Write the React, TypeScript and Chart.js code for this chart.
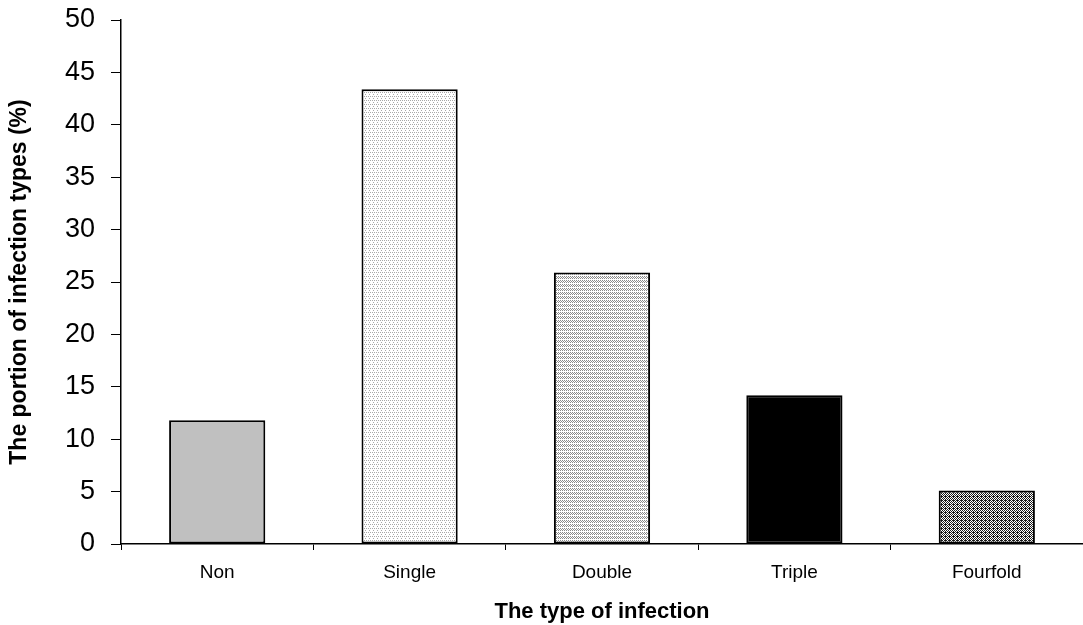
import React, { useEffect, useRef } from "react";
import { Chart, registerables } from "chart.js";

Chart.register(...registerables);

const categories = ["Non", "Single", "Double", "Triple", "Fourfold"];
const portions = [11.8, 43.4, 25.9, 14.2, 5.1];
const yTicks = [0, 5, 10, 15, 20, 25, 30, 35, 40, 45, 50];
const yTitle = "The portion of infection types (%)";
const xTitle = "The type of infection";

const FONT = "Arial, 'Liberation Sans', Helvetica, sans-serif";

function makePattern(size: number, bg: string, fg: string, cells: [number, number][]) {
  const c = document.createElement("canvas");
  c.width = size;
  c.height = size;
  const ctx = c.getContext("2d")!;
  ctx.fillStyle = bg;
  ctx.fillRect(0, 0, size, size);
  ctx.fillStyle = fg;
  for (const [x, y] of cells) ctx.fillRect(x, y, 1, 1);
  return ctx.createPattern(c, "repeat")!;
}

export default function App() {
  const ref = useRef<HTMLCanvasElement | null>(null);

  useEffect(() => {
    document.body.style.margin = "0";
    const canvas = ref.current!;
    const sparse = makePattern(4, "#ffffff", "#a8a8a8", [[0, 0], [2, 0], [1, 2]]);
    const medium = makePattern(4, "#ffffff", "#8a8a8a", [
      [0, 0], [2, 0], [1, 1], [3, 1], [0, 2], [2, 2],
    ]);
    const dense = makePattern(4, "#ffffff", "#1a1a1a", [
      [0, 0], [2, 0], [1, 1], [3, 1], [0, 2], [2, 2], [1, 3], [3, 3], [1, 0],
    ]);
    const fills: (string | CanvasPattern)[] = ["#c0c0c0", sparse, medium, "#000000", dense];

    const chart = new Chart(canvas, {
      type: "bar",
      data: {
        labels: categories,
        datasets: [
          {
            data: portions,
            backgroundColor: fills as any,
            borderColor: "#000000",
            borderWidth: 2,
            borderSkipped: false,
            barPercentage: 0.5,
            categoryPercentage: 1,
          },
        ],
      },
      options: {
        responsive: false,
        animation: false,
        layout: { padding: { top: 20, left: 0, right: 0, bottom: 0 } },
        plugins: { legend: { display: false }, tooltip: { enabled: false } },
        scales: {
          x: {
            grid: {
              offset: true,
              drawOnChartArea: false,
              drawTicks: true,
              tickLength: 6,
              color: "#000000",
              lineWidth: 1,
            },
            border: { display: true, color: "#000000", width: 1.5 },
            ticks: {
              color: "#000000",
              font: { family: FONT, size: 19 },
              padding: 11,
            },
            title: {
              display: true,
              text: xTitle,
              color: "#000000",
              font: { family: FONT, size: 22, weight: "bold" },
              padding: { top: 0, bottom: 0 },
            },
            afterFit: (s: any) => {
              s.height = 81;
              s.paddingLeft = 0;
              s.paddingRight = 0;
            },
          },
          y: {
            min: 0,
            max: 50,
            afterBuildTicks: (s: any) => {
              s.ticks = yTicks.map((v) => ({ value: v }));
            },
            grid: {
              drawOnChartArea: false,
              drawTicks: true,
              tickLength: 10,
              color: "#000000",
              lineWidth: 1,
            },
            border: { display: true, color: "#000000", width: 1.5 },
            ticks: {
              color: "#000000",
              font: { family: FONT, size: 27 },
              padding: 16,
            },
            title: {
              display: true,
              text: yTitle,
              color: "#000000",
              font: { family: FONT, size: 23, weight: "bold" },
              padding: { top: 6, bottom: 0 },
            },
            afterFit: (s: any) => {
              s.width = 121;
              s.paddingTop = 0;
              s.paddingBottom = 0;
            },
          },
        },
      },
    });
    return () => chart.destroy();
  }, []);

  return (
    <div style={{ position: "absolute", left: 0, top: 0, width: 1083, height: 625, background: "#fff" }}>
      <canvas ref={ref} width={1083} height={625} />
    </div>
  );
}
